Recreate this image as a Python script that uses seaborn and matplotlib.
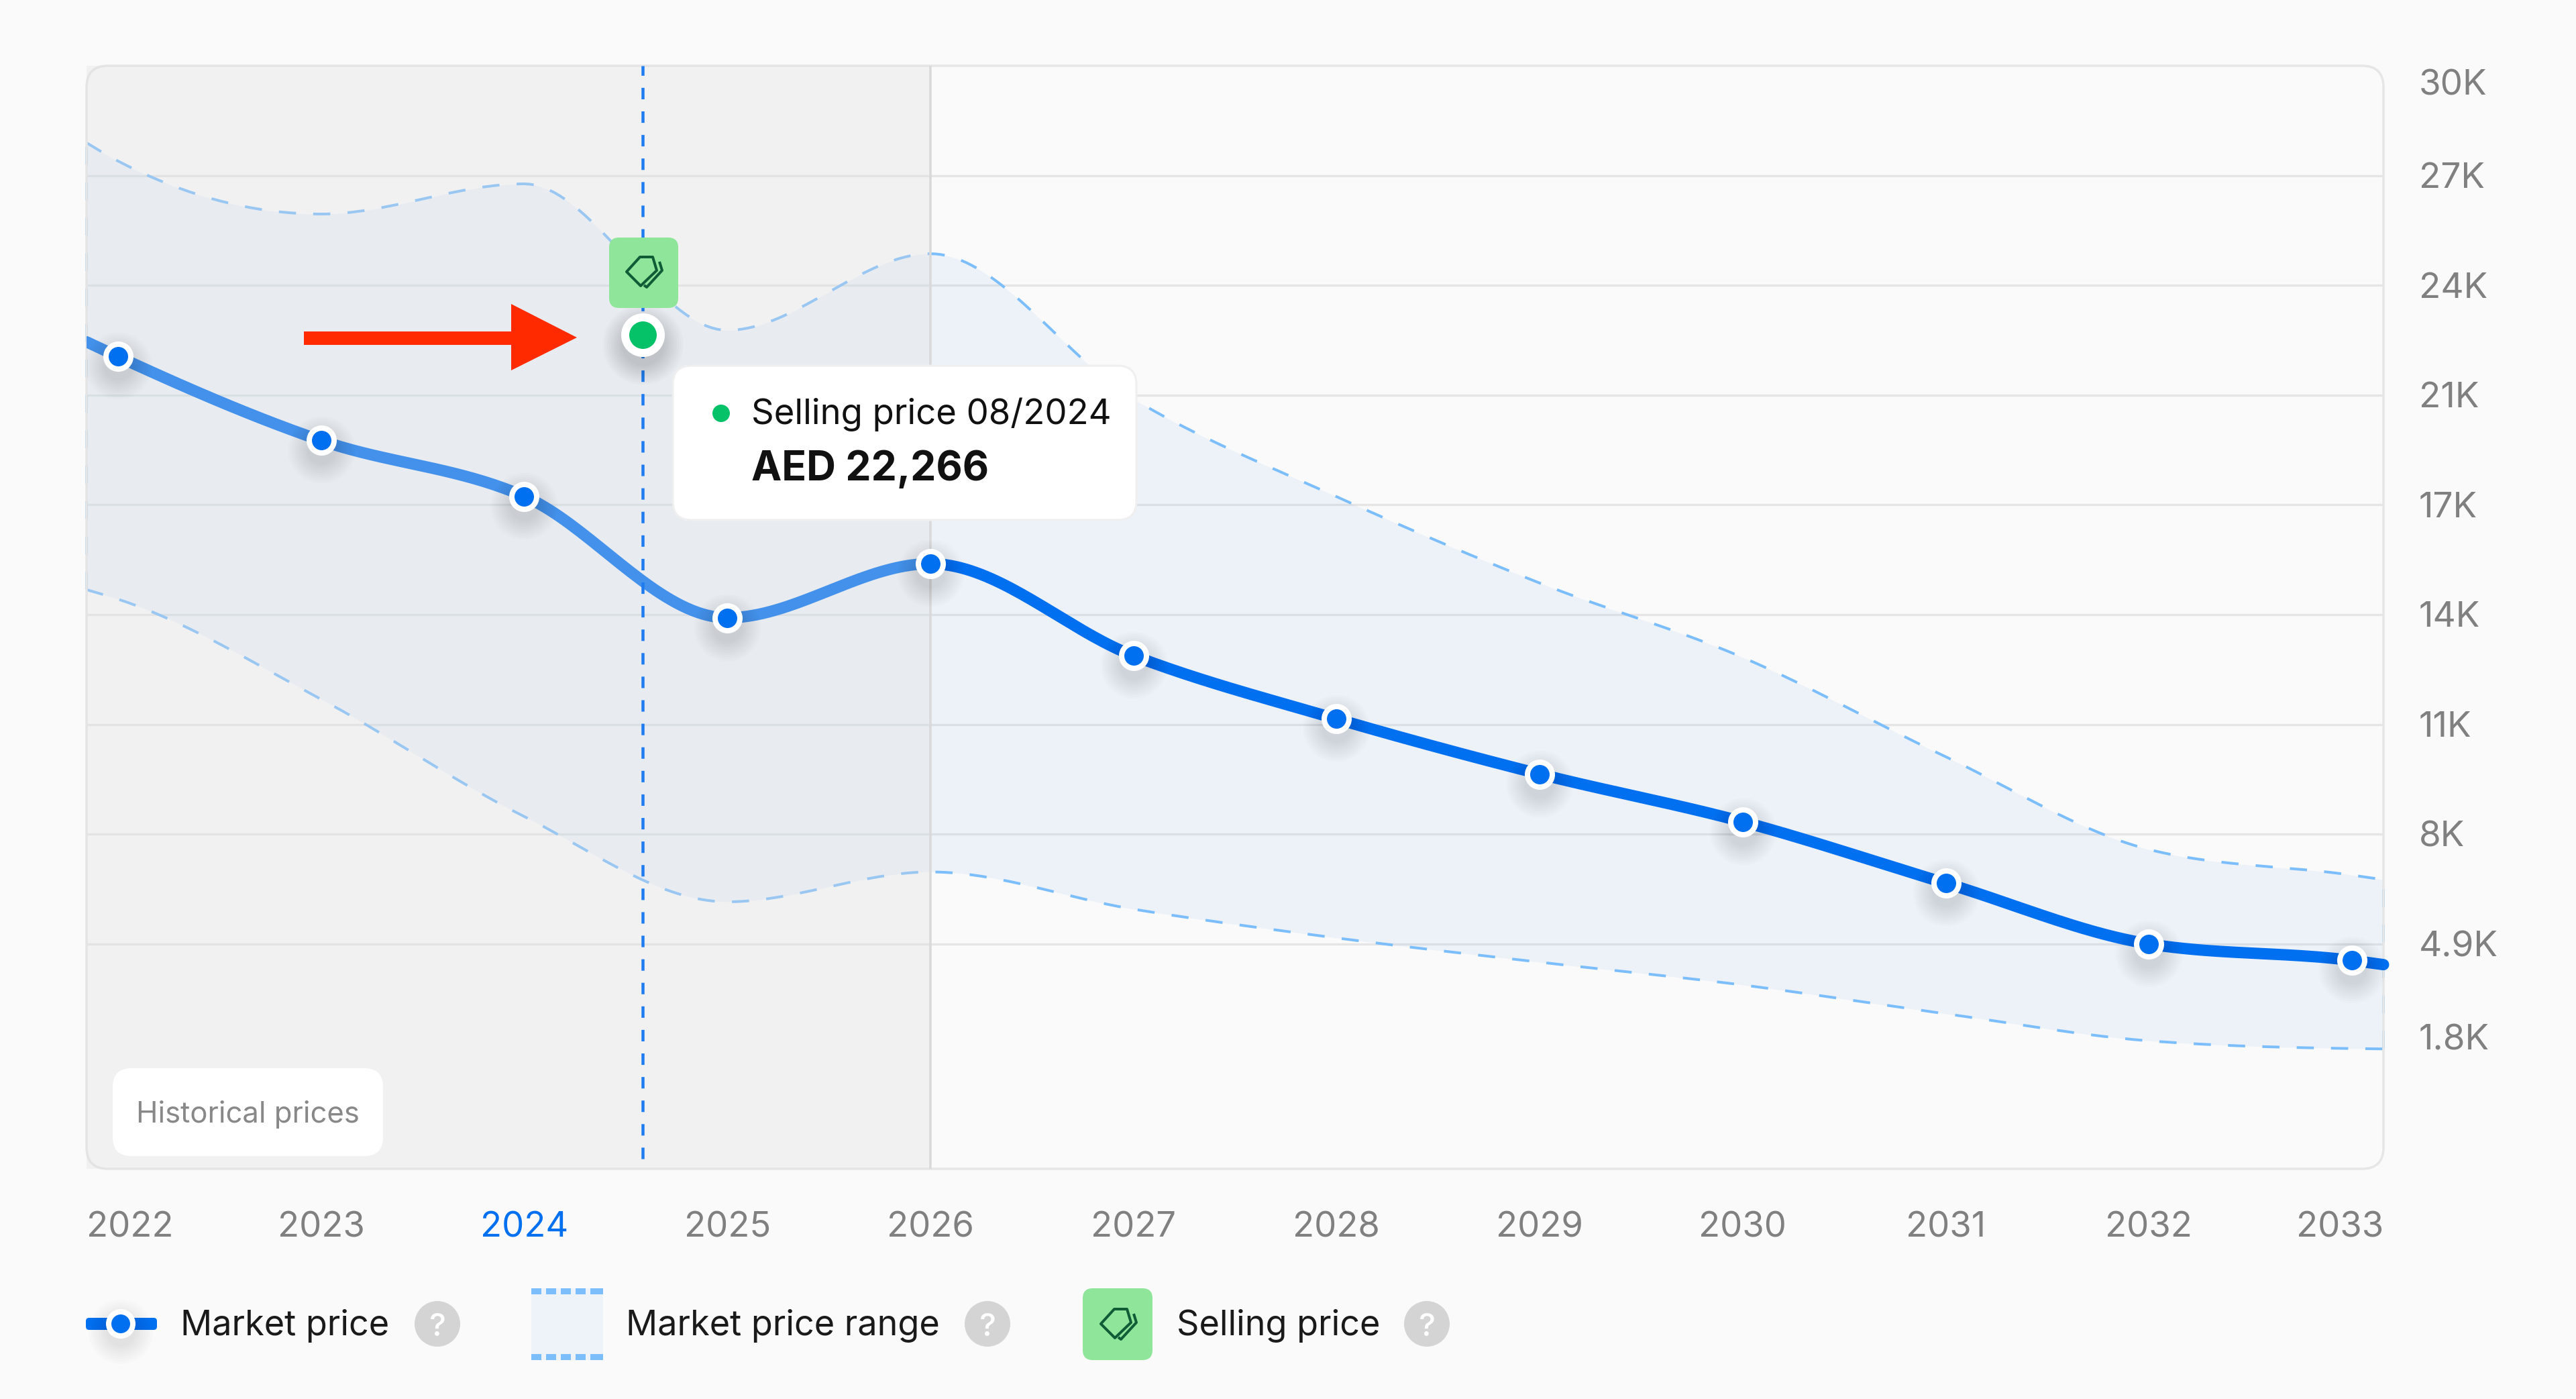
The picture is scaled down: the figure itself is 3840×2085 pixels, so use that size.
import numpy as np
import pandas as pd
import matplotlib
matplotlib.use("Agg")
import matplotlib.pyplot as plt
from matplotlib.patches import FancyBboxPatch, Circle, Polygon, Rectangle
from matplotlib.transforms import Affine2D
import seaborn as sns

# ---------- data (thousands of AED) ----------
years = [2022, 2023, 2024, 2025, 2026, 2027, 2028, 2029, 2030, 2031, 2032, 2033]
year_labels = [str(y) for y in years]
x_left, x_right = 2021.845, 2033.155
market_price = [21.65, 19.26, 17.67, 14.21, 15.75, 13.13, 11.33, 9.76, 8.40, 6.65, 4.92, 4.45]
market_edges = [22.07, 4.33]
range_upper = [27.22, 25.71, 26.57, 22.40, 24.58, 20.44, 17.66, 15.20, 13.08, 10.25, 7.61, 6.88]
range_upper_edges = [27.74, 6.75]
range_lower = [14.74, 11.89, 8.55, 6.12, 6.97, 5.91, 5.09, 4.40, 3.75, 2.93, 2.16, 1.94]
range_lower_edges = [15.01, 1.93]
selling_x = [2024.583]
selling_y = [22.266]
y_ticks = [1.8, 4.925, 8.05, 11.175, 14.3, 17.425, 20.55, 23.675, 26.8, 29.925]
y_labels = ["1.8K", "4.9K", "8K", "11K", "14K", "17K", "21K", "24K", "27K", "30K"]
historical_until = 2026

# ---------- style ----------
W, H = 3840, 2085
BG = "#FAFAFA"
BLUE = "#0070F0"
DASH = "#7CBEFB"
GRID = "#E5E5E5"
GREY = "#808080"
GREEN_BOX = "#8FE59A"
GREEN_DOT = "#05C168"
ICON = "#0F5C36"
RED = "#FF2A00"
px = 0.72  # points per pixel at dpi 100

sns.set_theme(style="white")
plt.rcParams["font.family"] = ["Inter", "DejaVu Sans"]

fig = plt.figure(figsize=(W / 100, H / 100), dpi=100, facecolor=BG)
L, R, T, B = 129, 3553, 98, 1742
ax = fig.add_axes([L / W, 1 - B / H, (R - L) / W, (B - T) / H])
ax.set_facecolor("none")
for s in ax.spines.values():
    s.set_visible(False)
PX = Affine2D().scale(1, -1).translate(0, H)  # top-left pixel positions for annotations


def monotone(xs, ys, n=40):
    """Monotone cubic rendering of a curve through the read values."""
    xs, ys = np.asarray(xs, float), np.asarray(ys, float)
    h = np.diff(xs)
    s = np.diff(ys) / h
    t = np.zeros_like(ys)
    for i in range(1, len(ys) - 1):
        p = (s[i - 1] * h[i] + s[i] * h[i - 1]) / (h[i - 1] + h[i])
        t[i] = (np.sign(s[i - 1]) + np.sign(s[i])) * min(abs(s[i - 1]), abs(s[i]), 0.5 * abs(p))
    t[0] = (3 * s[0] - t[1]) / 2
    t[-1] = (3 * s[-1] - t[-2]) / 2
    ox, oy = [], []
    for i in range(len(h)):
        u = np.linspace(0, 1, n, endpoint=False)
        ox.append(xs[i] + u * h[i])
        oy.append((2*u**3 - 3*u**2 + 1) * ys[i] + (u**3 - 2*u**2 + u) * h[i] * t[i]
                  + (-2*u**3 + 3*u**2) * ys[i + 1] + (u**3 - u**2) * h[i] * t[i + 1])
    ox.append(xs[-1:]); oy.append(ys[-1:])
    return np.concatenate(ox), np.concatenate(oy)


xfull = [x_left] + years + [x_right]
mx, my = monotone(xfull, [market_edges[0]] + market_price + [market_edges[1]])
ux, uy = monotone(xfull, [range_upper_edges[0]] + range_upper + [range_upper_edges[1]])
lx, ly = monotone(xfull, [range_lower_edges[0]] + range_lower + [range_lower_edges[1]])

# band
ax.fill_between(ux, ly, uy, color=BLUE, alpha=0.05, lw=0, zorder=1)
dash_kw = dict(color=DASH, lw=4 * px, linestyle=(0, (6.4, 6.4)), zorder=2, errorbar=None, legend=False)
sns.lineplot(x=ux, y=uy, ax=ax, **dash_kw)
sns.lineplot(x=lx, y=ly, ax=ax, **dash_kw)
ax.plot([x_left, x_left], [ly[0], uy[0]], color=DASH, lw=4 * px, ls=(0, (6.6, 6.6)), zorder=2, clip_on=False)
ax.plot([x_right, x_right], [ly[-1], uy[-1]], color=DASH, lw=4 * px, ls=(0, (6.6, 6.6)), zorder=2, clip_on=False)

# market price line
sns.lineplot(x=mx, y=my, ax=ax, color=BLUE, lw=17 * px, zorder=3, errorbar=None, legend=False,
             solid_capstyle="round")
main_line = ax.get_lines()[-1]
clip_rect = Rectangle((L, T), R - L + 12, B - T, transform=PX)
main_line.set_clip_path(clip_rect)

# historical overlay (veils everything below it)
ax.axvspan(x_left, historical_until, color="#DFDFDF", alpha=0.30, lw=0, zorder=4)
ax.axvline(historical_until, color="#D9D9D9", lw=3.5 * px, zorder=4.2)
ax.axvline(selling_x[0], color="#1F7CF0", lw=4.5 * px, ls=(0, (3.8, 4)), zorder=4.5, ymin=0.009)

# marker shadows
ydrop = 14 * 0.019113
for r in np.linspace(22, 50, 10):
    ax.scatter(years, np.array(market_price) - ydrop, s=(2 * r * px) ** 2, color="black",
               alpha=0.011, lw=0, zorder=5)
    ax.scatter(selling_x, np.array(selling_y) - ydrop, s=(2 * (r + 10) * px) ** 2, color="black",
               alpha=0.014, lw=0, zorder=5)

df = pd.DataFrame({"year": years, "price": market_price})
sns.scatterplot(data=df, x="year", y="price", ax=ax, s=(37 * px) ** 2, color=BLUE, edgecolor="white",
                linewidth=8 * px, zorder=6, legend=False, clip_on=False)
sns.scatterplot(x=selling_x, y=selling_y, ax=ax, s=(53 * px) ** 2, color=GREEN_DOT, edgecolor="white",
                linewidth=12 * px, zorder=7, legend=False)

# axes
ax.set_xlim(x_left, x_right)
ax.set_ylim(-1.487, 29.934)
ax.set_xlabel("")
ax.set_ylabel("")
ax.set_xticks([x_left] + years[1:-1] + [x_right])
ax.set_xticklabels(year_labels, fontsize=37.8, color=GREY)
xt = ax.get_xticklabels()
xt[0].set_ha("left")
xt[-1].set_ha("right")
xt[2].set_color(BLUE)
ax.yaxis.tick_right()
ax.set_yticks(y_ticks)
ax.set_yticklabels(y_labels, fontsize=38.2, color=GREY, va="center")
ax.tick_params(axis="x", length=0, pad=46)
ax.tick_params(axis="y", length=0, pad=38)
yt = ax.get_yticklabels()
yt[0].set_va("bottom")
yt[-1].set_va("top")
for t in yt:
    t.set_transform(t.get_transform() + Affine2D().translate(0, -5))
ax.set_axisbelow(True)
ax.grid(axis="y", color=GRID, lw=3.3 * px)
ax.grid(axis="x", visible=False)
gl = ax.yaxis.get_major_ticks()
gl[0].gridline.set_visible(False)
gl[-1].gridline.set_visible(False)


def add(p):
    p.set_transform(PX)
    p.set_clip_on(False)
    ax.add_patch(p)
    return p


def rbox(x0, y0, x1, y1, r, fc, ec="none", lw=0, z=8):
    return add(FancyBboxPatch((x0, y0), x1 - x0, y1 - y0, boxstyle=f"round,pad=0,rounding_size={r}",
                              fc=fc, ec=ec, lw=lw * px, zorder=z))


def label(x, y, s, size=37.6, color="#1A1A1A", weight="normal", ha="left", z=10):
    return ax.text(x, y, s, transform=PX, fontsize=size, color=color, fontweight=weight,
                   ha=ha, va="baseline", zorder=z, clip_on=False)


def icon(cx, cy, z=11):
    main = [(-25, 0), (-5, -22), (14, -22), (20, -2), (-4, 21)]
    back = [(24, -15), (28, -2), (5, 23), (1, 20)]
    for pts, closed in ((main, True), (back, False)):
        v = [(cx + a, cy + b) for a, b in pts]
        add(Polygon(v, closed=closed, fc="none", ec=ICON, lw=4 * px, joinstyle="round", zorder=z))


# frame
rbox(L, T, R, B, 32, "none", ec="#E6E6E6", lw=3.5, z=2.5)

# selling-price tag
rbox(908, 354, 1011, 459, 15, GREEN_BOX, z=8)
icon(959, 405)

# red arrow
add(Polygon([(453, 494), (762, 494), (762, 453), (860, 503), (762, 552), (762, 514), (453, 514)],
            closed=True, fc=RED, ec="none", zorder=8))

# tooltip
rbox(1003, 545, 1694, 775, 28, "white", ec="#EFEFEF", lw=3, z=8)
add(Circle((1075, 616), 13, fc=GREEN_DOT, ec="none", zorder=9))
label(1120, 632, "Selling price 08/2024", size=37.9, color="#111111")
label(1120, 716, "AED 22,266", size=43.7, color="#111111", weight="bold")

# historical label
rbox(168, 1592, 571, 1723, 28, "white", z=8)
label(203, 1673, "Historical prices", size=31.4, color="#888888")

# legend row
LY = 1973
rbox(128, LY - 9, 234, LY + 9, 5, BLUE)
for r in np.linspace(22, 48, 8):
    add(Circle((180, LY + 12), r, fc="black", ec="none", alpha=0.012, zorder=8.2))
add(Circle((180, LY), 18, fc=BLUE, ec="white", lw=8 * px, zorder=8.5))
label(269, 1990, "Market price")

add(Rectangle((792, 1920), 107, 107, fc="#EEF2F9", ec="none", zorder=8))
for yy in (1920, 2018):
    for i in range(5):
        add(Rectangle((792 + i * 22, yy), 15 if i < 4 else 19, 9, fc=DASH, ec="none", zorder=8.5))
label(933, 1990, "Market price range")

rbox(1614, 1920, 1718, 2027, 15, GREEN_BOX, z=8)
icon(1666, 1973)
label(1754, 1990, "Selling price")

for cx in (652, 1472, 2127):
    add(Circle((cx, LY), 34, fc="#D4D4D4", ec="none", zorder=8))
    ax.text(cx, LY + 1, "?", transform=PX, fontsize=34, color="white", fontweight="medium",
            ha="center", va="center_baseline", zorder=9, clip_on=False)

fig.savefig("out.png", dpi=100, facecolor=BG)
